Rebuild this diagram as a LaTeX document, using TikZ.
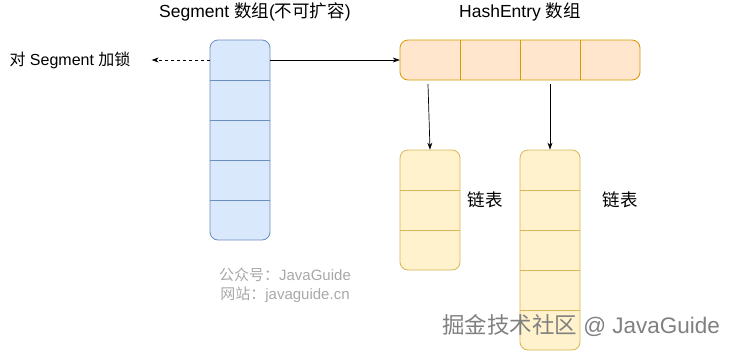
\documentclass[tikz,border=0pt]{standalone}
\usepackage{fontspec}
\setmainfont{Liberation Sans}
\newfontfamily\cjk{Noto Sans CJK SC}
\usetikzlibrary{arrows.meta}
\definecolor{segfill}{HTML}{DAE8FC}
\definecolor{segline}{HTML}{6C8EBF}
\definecolor{hefill}{HTML}{FFE6CC}
\definecolor{heline}{HTML}{D79B00}
\definecolor{listfill}{HTML}{FFF2CC}
\definecolor{listline}{HTML}{D6B656}
\definecolor{markgray}{HTML}{A8A8A8}
\begin{document}
\begin{tikzpicture}[x=1pt,y=-1pt,
  box/.style={rounded corners=8pt, line width=0.8pt, inner sep=0pt, minimum width=60pt},
  cell/.style={inner sep=0pt, minimum width=60pt, minimum height=40pt},
  label/.style={font=\fontsize{16}{19}\selectfont, inner sep=0pt},
  title/.style={font=\fontsize{17.5}{21}\selectfont, inner sep=0pt},
  wmark/.style={font=\fontsize{15}{18}\selectfont, text=markgray, inner sep=0pt},
  link/.style={-{Stealth[length=7pt,width=5pt]}, line width=0.7pt}]
  \useasboundingbox (0,0) rectangle (736,351);

  % Segment array
  \node[box, draw=segline, fill=segfill, minimum height=200pt] (seg) at (240,140) {};
  \foreach \i in {1,...,5}
    \node[cell] (s\i) at (240,20+40*\i) {};
  \foreach \i in {1,...,4}
    \draw[segline, line width=0.8pt] (s\i.south west) -- (s\i.south east);

  % HashEntry array
  \node[box, draw=heline, fill=hefill, minimum width=240pt, minimum height=40pt] (he) at (520,60) {};
  \foreach \i in {1,...,4}
    \node[cell] (h\i) at (370+60*\i,60) {};
  \foreach \i in {1,...,3}
    \draw[heline, line width=0.8pt] (h\i.north east) -- (h\i.south east);

  % lists
  \node[box, draw=listline, fill=listfill, minimum height=120pt] (l1) at (430,210) {};
  \draw[listline, line width=0.8pt] (400,190) -- (460,190);
  \draw[listline, line width=0.8pt] (400,230) -- (460,230);
  \node[box, draw=listline, fill=listfill, minimum height=200pt] (l2) at (550,250) {};
  \foreach \y in {190,230,270,310}
    \draw[listline, line width=0.8pt] (520,\y) -- (580,\y);

  % labels
  \node[title] (segt) at (255,12) {Segment {\cjk 数组}({\cjk 不可扩容})};
  \node[title] (het) at (520,12) {HashEntry {\cjk 数组}};
  \node[label] (lock) at (70,60) {{\cjk 对} Segment {\cjk 加锁}};
  \node[title] (lt1) at (485,200) {\cjk 链表};
  \node[title] (lt2) at (620,200) {\cjk 链表};

  % connectors
  \draw[link] (s1.east) -- (h1.west);
  \draw[link, dashed, line width=0.6pt, shorten >=21pt] (s1.west) -- (lock.east);
  \draw[link] ([xshift=-2pt,yshift=-4pt]h1.south) -- (l1.north);
  \draw[link] ([yshift=-4pt]h3.south) -- (l2.north);

  % marks
  \node[wmark] (mk1) at (285,275) {{\cjk 公众号：}JavaGuide};
  \node[wmark] (mk2) at (285,295) {{\cjk 网站：}javaguide.cn};
  \node[font=\fontsize{22.5}{27}\selectfont, text=gray, inner sep=0pt] (jj) at (581,325) {{\cjk 掘金技术社区} @ JavaGuide};
\end{tikzpicture}
\end{document}
